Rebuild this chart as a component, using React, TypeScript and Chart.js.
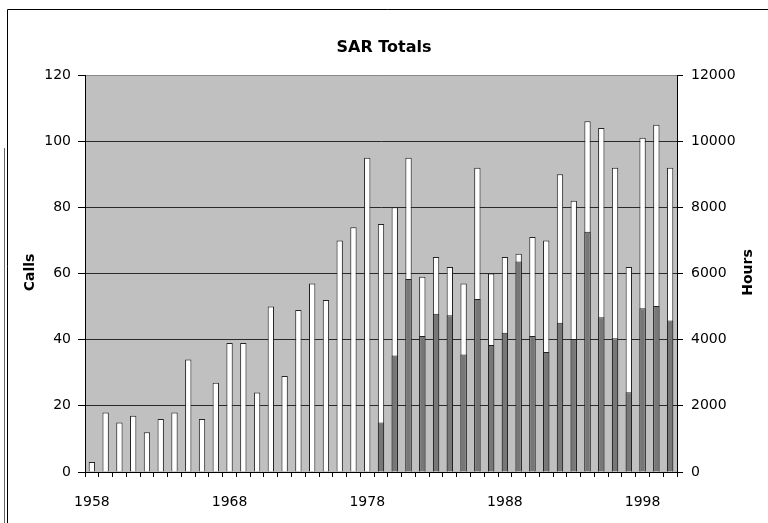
import React, { useEffect, useRef } from 'react';
import { Chart, registerables } from 'chart.js';

Chart.register(...registerables);

const years: string[] = [
  '1958', '1959', '1960', '1961', '1962', '1963', '1964', '1965', '1966', '1967',
  '1968', '1969', '1970', '1971', '1972', '1973', '1974', '1975', '1976', '1977',
  '1978', '1979', '1980', '1981', '1982', '1983', '1984', '1985', '1986', '1987',
  '1988', '1989', '1990', '1991', '1992', '1993', '1994', '1995', '1996', '1997',
  '1998', '1999', '2000',
];

const calls: number[] = [
  3, 18, 15, 17, 12, 16, 18, 34, 16, 27,
  39, 39, 24, 50, 29, 49, 57, 52, 70, 74,
  95, 75, 80, 95, 59, 65, 62, 57, 92, 60,
  65, 66, 71, 70, 90, 82, 106, 104, 92, 62,
  101, 105, 92,
];

const hours: (number | null)[] = [
  null, null, null, null, null, null, null, null, null, null,
  null, null, null, null, null, null, null, null, null, null,
  null, 1500, 3520, 5830, 4110, 4780, 4740, 3550, 5230, 3840,
  4210, 6360, 4110, 3630, 4510, 4020, 7260, 4680, 4040, 2410,
  4950, 5020, 4580,
];

const titleText = 'SAR Totals';
const leftTitle = 'Calls';
const rightTitle = 'Hours';

const FONT = 'DejaVu Sans';

export default function App() {
  const ref = useRef<HTMLCanvasElement>(null);

  useEffect(() => {
    const canvas = ref.current;
    if (!canvas) return;

    const decor = {
      id: 'decor',
      beforeDraw(chart: any) {
        const { ctx, chartArea } = chart;
        ctx.save();
        ctx.fillStyle = '#ffffff';
        ctx.fillRect(0, 0, chart.width, chart.height);
        ctx.fillStyle = '#c0c0c0';
        ctx.fillRect(chartArea.left, chartArea.top, chartArea.right - chartArea.left, chartArea.bottom - chartArea.top);
        ctx.strokeStyle = '#000';
        ctx.lineWidth = 1;
        ctx.beginPath();
        ctx.moveTo(7.5, chart.height);
        ctx.lineTo(7.5, 9.5);
        ctx.lineTo(chart.width, 9.5);
        ctx.stroke();
        ctx.strokeStyle = '#666';
        ctx.beginPath();
        ctx.moveTo(4.5, 148);
        ctx.lineTo(4.5, chart.height);
        ctx.stroke();
        ctx.restore();
      },
      afterDraw(chart: any) {
        const { ctx, chartArea } = chart;
        const midY = (chartArea.top + chartArea.bottom) / 2;
        ctx.save();
        ctx.fillStyle = '#000';
        ctx.font = `bold 14px "${FONT}"`;
        ctx.textAlign = 'center';
        ctx.textBaseline = 'middle';
        [[30, leftTitle], [748, rightTitle]].forEach(([x, t]) => {
          ctx.save();
          ctx.translate(x as number, midY - 1);
          ctx.rotate(-Math.PI / 2);
          ctx.fillText(t as string, 0, 0);
          ctx.restore();
        });
        ctx.restore();
      },
    };

    const chart = new Chart(canvas, {
      type: 'bar',
      data: {
        labels: years,
        datasets: [
          {
            label: 'Hours',
            data: hours,
            yAxisID: 'y1',
            backgroundColor: '#777777',
            borderColor: '#222222',
            borderWidth: 1,
            grouped: false,
            barPercentage: 0.46,
            categoryPercentage: 1,
            order: 0,
          },
          {
            label: 'Calls',
            data: calls,
            yAxisID: 'y',
            backgroundColor: '#ffffff',
            borderColor: '#222222',
            borderWidth: 1,
            grouped: false,
            barPercentage: 0.46,
            categoryPercentage: 1,
            order: 1,
          },
        ],
      },
      options: {
        responsive: false,
        animation: false,
        devicePixelRatio: 1,
        layout: { padding: 0 },
        plugins: {
          legend: { display: false },
          tooltip: { enabled: false },
          title: {
            display: true,
            text: titleText,
            color: '#000',
            font: { family: FONT, size: 16, weight: 'bold' },
            padding: { top: 38.4, bottom: 17.4 },
          },
        },
        scales: {
          x: {
            offset: true,
            grid: {
              display: true,
              drawOnChartArea: false,
              drawTicks: true,
              tickLength: 5,
              color: '#000',
              offset: true,
            },
            border: { display: true, color: '#000', width: 1 },
            ticks: {
              autoSkip: false,
              maxRotation: 0,
              minRotation: 0,
              padding: 17,
              color: '#000',
              font: { family: FONT, size: 14 },
              callback: (_v: any, i: number) => (i % 10 === 0 ? years[i] : ''),
            },
            afterFit: (s: any) => { s.height = 51; },
          },
          y: {
            position: 'left',
            min: 0,
            max: 120,
            grid: {
              color: (c: any) => (c.tick && c.tick.value === 120 ? '#888888' : '#2a2a2a'),
              tickColor: '#000',
              drawTicks: true,
              tickLength: 7,
            },
            border: { display: true, color: '#000', width: 1 },
            ticks: {
              stepSize: 20,
              padding: 7,
              color: '#000',
              font: { family: FONT, size: 14 },
              callback: (v: any) => String(v),
            },
            afterFit: (s: any) => { s.width = 85; },
          },
          y1: {
            position: 'right',
            min: 0,
            max: 12000,
            grid: {
              drawOnChartArea: false,
              drawTicks: true,
              tickLength: 6,
              color: '#000',
            },
            border: { display: true, color: '#000', width: 1 },
            ticks: {
              stepSize: 2000,
              padding: 8,
              color: '#000',
              font: { family: FONT, size: 14 },
              callback: (v: any) => String(v),
            },
            afterFit: (s: any) => { s.width = 91; },
          },
        },
      },
      plugins: [decor],
    } as any);

    return () => chart.destroy();
  }, []);

  return (
    <div style={{ position: 'fixed', left: 0, top: 0, width: 768, height: 523, background: '#fff' }}>
      <canvas ref={ref} width={768} height={523} style={{ display: 'block', width: 768, height: 523 }} />
    </div>
  );
}
